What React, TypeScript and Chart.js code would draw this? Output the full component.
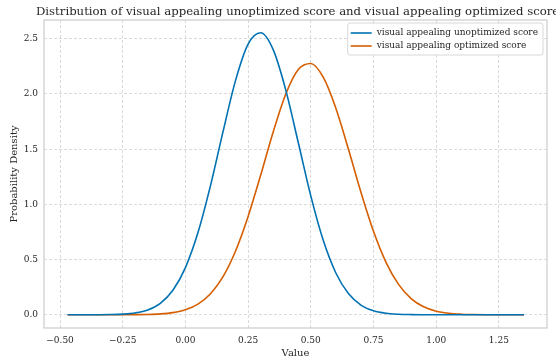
import React, { useEffect, useRef } from "react";
import { Chart, registerables } from "chart.js";
Chart.register(...registerables);

const titleText = "Distribution of visual appealing unoptimized score and visual appealing optimized score";
const seriesLabels = ["visual appealing unoptimized score", "visual appealing optimized score"];
const seriesColors = ["#0072B2", "#D55E00"];
const xAxisTitle = "Value";
const yAxisTitle = "Probability Density";

const xValues = [-0.47, -0.45, -0.4, -0.35, -0.3, -0.25, -0.2, -0.15, -0.1, -0.05, 0.0, 0.05, 0.1, 0.15, 0.2, 0.25, 0.3, 0.35, 0.4, 0.45, 0.5, 0.55, 0.6, 0.65, 0.7, 0.75, 0.8, 0.85, 0.9, 0.95, 1.0, 1.05, 1.1, 1.15, 1.2, 1.25, 1.3, 1.35];
const unoptimized = [0.0, 0.0, 0.0001, 0.0005, 0.0018, 0.0057, 0.0166, 0.0437, 0.1035, 0.2213, 0.4275, 0.7445, 1.17, 1.659, 2.123, 2.451, 2.554, 2.401, 2.037, 1.56, 1.077, 0.672, 0.378, 0.1917, 0.0878, 0.0363, 0.0135, 0.0046, 0.0014, 0.0004, 0.0001, 0.0, 0.0, 0.0, 0.0, 0.0, 0.0, 0.0];
const optimized = [0.0, 0.0, 0.0, 0.0, 0.0001, 0.0003, 0.001, 0.0028, 0.0078, 0.0195, 0.0452, 0.0967, 0.19, 0.345, 0.578, 0.891, 1.264, 1.656, 1.998, 2.221, 2.276, 2.15, 1.871, 1.501, 1.11, 0.756, 0.475, 0.275, 0.1465, 0.072, 0.0326, 0.0136, 0.0052, 0.0019, 0.0006, 0.0002, 0.0001, 0.0];
const xTicks = [-0.5, -0.25, 0.0, 0.25, 0.5, 0.75, 1.0, 1.25];
const yTicks = [0.0, 0.5, 1.0, 1.5, 2.0, 2.5];

const FONT = "'DejaVu Serif', serif";

const fmt = (v: number, d: number) => {
  const s = Math.abs(v).toFixed(d);
  return v < -1e-9 ? "\u2212" + s : s;
};

const decorPlugin = {
  id: "decor",
  beforeDraw(chart: any) {
    const { ctx, width, height } = chart;
    ctx.save();
    ctx.fillStyle = "#ffffff";
    ctx.fillRect(0, 0, width, height);
    ctx.restore();
  },
  afterDraw(chart: any) {
    const { ctx, chartArea } = chart;
    const { left, right, top, bottom } = chartArea;
    ctx.save();
    ctx.strokeStyle = "#cccccc";
    ctx.lineWidth = 1.2;
    ctx.strokeRect(left, top, right - left, bottom - top);
    ctx.fillStyle = "#262626";
    ctx.font = `11.7px ${FONT}`;
    ctx.textAlign = "left";
    ctx.textBaseline = "alphabetic";
    ctx.fillText(titleText, 36, 15);
    ctx.font = `9px ${FONT}`;
    const rowH = 13;
    let maxW = 0;
    seriesLabels.forEach((l) => { maxW = Math.max(maxW, ctx.measureText(l).width); });
    const boxW = 3 + 21 + 5 + maxW + 5;
    const boxH = rowH * seriesLabels.length + 6;
    const bx = right - 4 - boxW;
    const by = top + 3;
    ctx.beginPath();
    const r = 2.5;
    ctx.moveTo(bx + r, by);
    ctx.lineTo(bx + boxW - r, by);
    ctx.quadraticCurveTo(bx + boxW, by, bx + boxW, by + r);
    ctx.lineTo(bx + boxW, by + boxH - r);
    ctx.quadraticCurveTo(bx + boxW, by + boxH, bx + boxW - r, by + boxH);
    ctx.lineTo(bx + r, by + boxH);
    ctx.quadraticCurveTo(bx, by + boxH, bx, by + boxH - r);
    ctx.lineTo(bx, by + r);
    ctx.quadraticCurveTo(bx, by, bx + r, by);
    ctx.closePath();
    ctx.fillStyle = "rgba(255,255,255,0.85)";
    ctx.fill();
    ctx.strokeStyle = "#d8d8d8";
    ctx.lineWidth = 1;
    ctx.stroke();
    ctx.textAlign = "left";
    ctx.textBaseline = "middle";
    seriesLabels.forEach((l, i) => {
      const cy = by + 3 + rowH * i + rowH / 2 + 0.5;
      ctx.strokeStyle = seriesColors[i];
      ctx.lineWidth = 1.6;
      ctx.beginPath();
      ctx.moveTo(bx + 3, cy);
      ctx.lineTo(bx + 24, cy);
      ctx.stroke();
      ctx.fillStyle = "#262626";
      ctx.fillText(l, bx + 29, cy);
    });
    ctx.restore();
  },
};

export default function App() {
  const ref = useRef<HTMLCanvasElement | null>(null);
  useEffect(() => {
    document.body.style.margin = "0";
    if (!ref.current) return;
    const mk = (ys: number[]) => xValues.map((x, i) => ({ x, y: ys[i] }));
    const chart = new Chart(ref.current, {
      type: "line",
      data: {
        datasets: [unoptimized, optimized].map((ys, i) => ({
          label: seriesLabels[i],
          data: mk(ys),
          borderColor: seriesColors[i],
          backgroundColor: seriesColors[i],
          borderWidth: 1.6,
          pointRadius: 0,
          cubicInterpolationMode: "monotone" as const,
          fill: false,
        })),
      },
      options: {
        animation: false,
        responsive: false,
        maintainAspectRatio: false,
        layout: { padding: { top: 20, right: 9, left: 0, bottom: 0 } },
        plugins: { legend: { display: false }, title: { display: false }, tooltip: { enabled: false } },
        scales: {
          x: {
            type: "linear",
            min: -0.564,
            max: 1.442,
            afterBuildTicks: (s: any) => { s.ticks = xTicks.map((v) => ({ value: v })); },
            afterFit: (s: any) => { s.height = 34; },
            ticks: {
              callback: (v: any) => fmt(Number(v), 2),
              font: { family: FONT, size: 9 },
              color: "#262626",
              padding: 7,
              maxRotation: 0,
              autoSkip: false,
            },
            grid: { color: "#d6d6d6", lineWidth: 0.9, drawTicks: false },
            border: { display: false, dash: [3, 2] },
            title: { display: true, text: xAxisTitle, font: { family: FONT, size: 10 }, color: "#262626", padding: { top: 0, bottom: 3 } },
          },
          y: {
            type: "linear",
            min: -0.12,
            max: 2.67,
            afterBuildTicks: (s: any) => { s.ticks = yTicks.map((v) => ({ value: v })); },
            afterFit: (s: any) => { s.width = 44; },
            ticks: {
              callback: (v: any) => fmt(Number(v), 1),
              font: { family: FONT, size: 9 },
              color: "#262626",
              padding: 6,
            },
            grid: { color: "#d6d6d6", lineWidth: 0.9, drawTicks: false },
            border: { display: false, dash: [3, 2] },
            title: { display: true, text: yAxisTitle, font: { family: FONT, size: 10 }, color: "#262626", padding: { top: 8, bottom: 2 } },
          },
        },
      },
      plugins: [decorPlugin],
    });
    return () => chart.destroy();
  }, []);
  return (
    <div style={{ position: "absolute", left: 0, top: 0, width: 556, height: 362 }}>
      <canvas ref={ref} width={556} height={362} style={{ width: 556, height: 362, display: "block" }} />
    </div>
  );
}
